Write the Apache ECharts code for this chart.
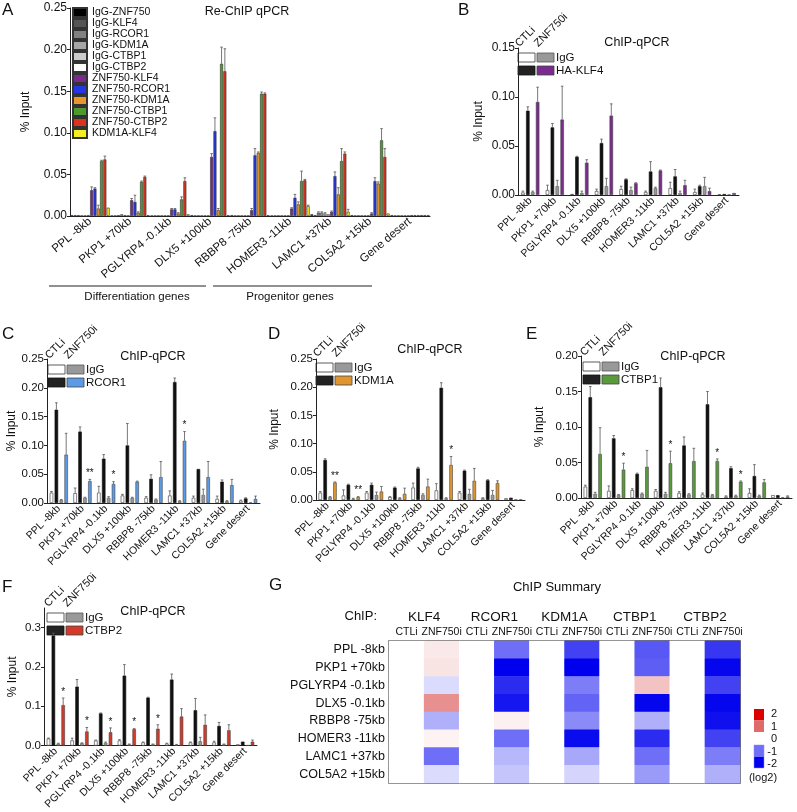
<!DOCTYPE html>
<html>
<head>
<meta charset="utf-8">
<script src="https://cdn.jsdelivr.net/npm/echarts@6/dist/echarts.min.js"></script>
<style>
html,body{margin:0;padding:0;background:#fff}
#fig{width:797px;height:812px}
</style>
</head>
<body>
<div id="fig"></div>
<script>
var FONT = 'Liberation Sans, Arial, Helvetica, sans-serif'

//基因位点
var genes = ['PPL -8kb', 'PKP1 +70kb', 'PGLYRP4 -0.1kb', 'DLX5 +100kb', 'RBBP8 -75kb', 'HOMER3 -11kb', 'LAMC1 +37kb', 'COL5A2 +15kb', 'Gene desert']

//A: Re-ChIP
var reChipNames = ['IgG-ZNF750', 'IgG-KLF4', 'IgG-RCOR1', 'IgG-KDM1A', 'IgG-CTBP1', 'IgG-CTBP2', 'ZNF750-KLF4', 'ZNF750-RCOR1', 'ZNF750-KDM1A', 'ZNF750-CTBP1', 'ZNF750-CTBP2', 'KDM1A-KLF4']
var reChipColors = ['#000000', '#555555', '#808080', '#a6a6a6', '#cccccc', '#ffffff', '#7a2a8c', '#2437e0', '#e8962e', '#4e9a2c', '#d9321f', '#f4ef22']
var reChipValues = [
	[0.001, 0.0005, 0.0005, 0.001, 0.001, 0.0005, 0.002, 0.001, 0.001],
	[0.001, 0.0005, 0.0005, 0.0005, 0.0005, 0.0005, 0.001, 0.0005, 0.0005],
	[0.001, 0.001, 0.0005, 0.0005, 0.0005, 0.0005, 0.004, 0.0005, 0.0005],
	[0.0005, 0.002, 0.0005, 0.0005, 0.0005, 0.0005, 0.004, 0.0005, 0.0005],
	[0.0005, 0.001, 0.0005, 0.0005, 0.0005, 0.0005, 0.003, 0.0005, 0.0005],
	[0.001, 0.0005, 0.0005, 0.0005, 0.0005, 0.0005, 0.002, 0.0005, 0.0005],
	[0.031, 0.019, 0.008, 0.071, 0.007, 0.009, 0.005, 0.003, 0.001],
	[0.033, 0.017, 0.008, 0.102, 0.073, 0.022, 0.048, 0.042, 0.001],
	[0.009, 0.004, 0.003, 0.007, 0.076, 0.014, 0.026, 0.039, 0.001],
	[0.066, 0.041, 0.020, 0.183, 0.147, 0.042, 0.066, 0.091, 0.001],
	[0.068, 0.047, 0.042, 0.174, 0.147, 0.043, 0.075, 0.071, 0.001],
	[0.010, 0.001, 0.002, 0.001, 0.001, 0.012, 0.005, 0.003, 0.001]
]
var reChipErr = [
	[0, 0, 0, 0, 0, 0, 0, 0, 0],
	[0, 0, 0, 0, 0, 0, 0, 0, 0],
	[0, 0, 0, 0, 0, 0, 0.001, 0, 0],
	[0, 0, 0, 0, 0, 0, 0.001, 0, 0],
	[0, 0, 0, 0, 0, 0, 0.001, 0, 0],
	[0, 0, 0, 0, 0, 0, 0, 0, 0],
	[0.004, 0.002, 0.001, 0.004, 0.002, 0.001, 0.001, 0.001, 0],
	[0.001, 0.008, 0.001, 0.016, 0.008, 0.004, 0.005, 0.004, 0],
	[0.004, 0.001, 0.001, 0.002, 0.001, 0.003, 0.008, 0.002, 0],
	[0.001, 0.001, 0.003, 0.020, 0.002, 0.012, 0.015, 0.014, 0],
	[0.004, 0.001, 0.004, 0.027, 0.001, 0.001, 0.002, 0.010, 0],
	[0, 0, 0, 0, 0, 0.001, 0.003, 0, 0]
]

//B: HA-KLF4
var klf4IgGCtl = [0.0025, 0.005, 0.001, 0.004, 0.006, 0.003, 0.007, 0.003, 0.0005]
var klf4IgGCtlErr = [0.0015, 0.005, 0, 0.002, 0.003, 0.001, 0.006, 0.003, 0]
var klf4Ctl = [0.086, 0.069, 0.039, 0.053, 0.016, 0.024, 0.019, 0.009, 0.001]
var klf4CtlErr = [0.004, 0.004, 0.0005, 0.004, 0.0005, 0.010, 0.007, 0.001, 0]
var klf4IgGKd = [0.003, 0.009, 0.002, 0.009, 0.005, 0.007, 0.002, 0.009, 0.0005]
var klf4IgGKdErr = [0.001, 0.006, 0.002, 0.008, 0.003, 0.001, 0.002, 0.009, 0]
var klf4Kd = [0.095, 0.077, 0.033, 0.081, 0.012, 0.025, 0.010, 0.004, 0.002]
var klf4KdErr = [0.015, 0.034, 0.003, 0.012, 0.0005, 0.0005, 0.005, 0.003, 0]

//C: RCOR1
var rcor1IgGCtl = [0.018, 0.017, 0.018, 0.013, 0.009, 0.013, 0.009, 0.007, 0.004]
var rcor1IgGCtlErr = [0.002, 0.009, 0.011, 0.002, 0.002, 0.008, 0.003, 0.005, 0.001]
var rcor1Ctl = [0.162, 0.124, 0.077, 0.100, 0.042, 0.210, 0.059, 0.037, 0.008]
var rcor1CtlErr = [0.012, 0.008, 0.007, 0.038, 0.007, 0.007, 0, 0.003, 0.001]
var rcor1IgGKd = [0.005, 0.009, 0.009, 0.009, 0.006, 0.003, 0.014, 0.003, 0.001]
var rcor1IgGKdErr = [0.001, 0.001, 0.002, 0.001, 0.001, 0.001, 0.010, 0.001, 0]
var rcor1Kd = [0.084, 0.038, 0.033, 0.037, 0.045, 0.108, 0.045, 0.031, 0.007]
var rcor1KdErr = [0.037, 0.003, 0.004, 0.001, 0.027, 0.016, 0.027, 0.010, 0.005]
var rcor1Sig = ['', '**', '*', '', '', '*', '', '', '']

//D: KDM1A
var kdm1aIgGCtl = [0.013, 0.008, 0.013, 0.005, 0.022, 0.017, 0.013, 0.003, 0.003]
var kdm1aIgGCtlErr = [0.002, 0.010, 0.002, 0.001, 0.008, 0.012, 0.002, 0.001, 0]
var kdm1aCtl = [0.071, 0.027, 0.027, 0.022, 0.056, 0.199, 0.052, 0.035, 0.004]
var kdm1aCtlErr = [0.002, 0.001, 0.003, 0.001, 0.002, 0.009, 0.001, 0.001, 0]
var kdm1aIgGKd = [0.005, 0.002, 0.009, 0.003, 0.009, 0.003, 0.011, 0.009, 0.001]
var kdm1aIgGKdErr = [0.001, 0.001, 0.005, 0.001, 0.002, 0.001, 0.008, 0.008, 0]
var kdm1aKd = [0.031, 0.005, 0.015, 0.011, 0.024, 0.062, 0.034, 0.030, 0.001]
var kdm1aKdErr = [0.001, 0.001, 0.009, 0.010, 0.013, 0.015, 0.022, 0.004, 0]
var kdm1aSig = ['**', '**', '', '', '', '*', '', '', '']

//E: CTBP1
var ctbp1IgGCtl = [0.016, 0.010, 0.011, 0.010, 0.007, 0.005, 0.002, 0.007, 0.004]
var ctbp1IgGCtlErr = [0.002, 0.007, 0.002, 0.002, 0.002, 0.002, 0.001, 0.006, 0]
var ctbp1Ctl = [0.142, 0.084, 0.034, 0.156, 0.074, 0.132, 0.042, 0.031, 0.004]
var ctbp1CtlErr = [0.015, 0.004, 0.001, 0.013, 0.012, 0.018, 0.002, 0.016, 0]
var ctbp1IgGKd = [0.006, 0.004, 0.006, 0.006, 0.005, 0.004, 0.003, 0.003, 0.001]
var ctbp1IgGKdErr = [0.002, 0.001, 0.001, 0.002, 0.001, 0.001, 0.001, 0.001, 0]
var ctbp1Kd = [0.062, 0.040, 0.044, 0.049, 0.052, 0.052, 0.023, 0.022, 0.002]
var ctbp1KdErr = [0.037, 0.009, 0.023, 0.017, 0.018, 0.003, 0.001, 0.004, 0.001]
var ctbp1Sig = ['', '*', '', '*', '', '*', '*', '', '']

//F: CTBP2
var ctbp2IgGCtl = [0.018, 0.013, 0.013, 0.013, 0.008, 0.005, 0.008, 0.008, 0.003]
var ctbp2IgGCtlErr = [0.001, 0.006, 0.001, 0.002, 0.001, 0.001, 0.001, 0.003, 0]
var ctbp2Ctl = [0.28, 0.150, 0.082, 0.178, 0.122, 0.168, 0.090, 0.050, 0.010]
var ctbp2CtlErr = [0.006, 0.018, 0.001, 0.028, 0.001, 0.014, 0.030, 0.009, 0]
var ctbp2IgGKd = [0.005, 0.006, 0.007, 0.003, 0.003, 0.002, 0.011, 0.003, 0.001]
var ctbp2IgGKdErr = [0.001, 0.001, 0.002, 0.001, 0.001, 0.001, 0.010, 0.001, 0]
var ctbp2Kd = [0.103, 0.036, 0.034, 0.042, 0.043, 0.074, 0.053, 0.039, 0.010]
var ctbp2KdErr = [0.018, 0.010, 0.011, 0.001, 0.010, 0.020, 0.025, 0.014, 0.004]
var ctbp2Sig = ['*', '*', '*', '*', '*', '', '', '', '']

//G: ChIP Summary (log2)
var heatRows = ['PPL -8kb', 'PKP1 +70kb', 'PGLYRP4 -0.1kb', 'DLX5 -0.1kb', 'RBBP8 -75kb', 'HOMER3 -11kb', 'LAMC1 +37kb', 'COL5A2 +15kb']
var heatProteins = ['KLF4', 'RCOR1', 'KDM1A', 'CTBP1', 'CTBP2']
var heatConditions = ['CTLi', 'ZNF750i']
var ctliLog2 = [0, 0, 0, 0, 0, 0, 0, 0]
var klf4Log2 = [0.15, 0.18, -0.25, 0.75, -0.55, 0.08, -1.0, -0.25]
var rcor1Log2 = [-1.0, -2.0, -1.6, -1.8, 0.1, -1.0, -0.5, -0.4]
var kdm1aLog2 = [-1.4, -2.0, -0.9, -1.1, -0.8, -1.9, -0.6, -0.3]
var ctbp1Log2 = [-1.2, -1.15, 0.4, -1.95, -0.55, -1.6, -1.0, -0.7]
var ctbp2Log2 = [-1.5, -1.95, -1.4, -1.95, -1.85, -1.4, -0.9, -0.55]
var heatScale = [2, 1, 0, -1, -2]

var heatColors = ['#0000ee', '#6e6ef6', '#ffffff', '#e06a6a', '#dd0000']

function txt(x, y, s, size, align, valign, extra) {
	var el = {
		type: 'text', x: x, y: y,
		style: {
			text: s, fontSize: size, fontFamily: FONT, fill: '#111',
			textAlign: align || 'left', align: align || 'left',
			textVerticalAlign: valign || 'middle', verticalAlign: valign || 'middle'
		}
	}
	if (extra) {
		for (var k in extra) el[k] = extra[k]
	}
	return el
}

function catAxis(gi, fs, rot) {
	return {
		type: 'category', gridIndex: gi, data: genes,
		axisLine: { lineStyle: { color: '#222', width: 1 } },
		axisTick: { alignWithLabel: true, length: 3, lineStyle: { color: '#222' } },
		axisLabel: { rotate: rot, interval: 0, fontSize: fs, color: '#111', margin: 4, fontFamily: FONT }
	}
}

function valAxis(gi, max, step, dec, gap, fs, ticks) {
	var ax = {
		type: 'value', gridIndex: gi, min: 0, max: max, interval: step,
		name: '% Input', nameLocation: 'middle', nameGap: gap,
		nameTextStyle: { fontSize: 12, color: '#111', fontFamily: FONT },
		splitLine: { show: false },
		axisLine: { show: true, lineStyle: { color: '#222' } },
		axisTick: { show: true, length: 3, lineStyle: { color: '#222' } },
		axisLabel: {
			fontSize: fs, color: '#111', margin: 3, fontFamily: FONT,
			formatter: function(v) {
				if (ticks && ticks.indexOf(+v.toFixed(3)) < 0) return ''
				return v.toFixed(dec)
			}
		}
	}
	if (ticks) {
		ax.axisLabel.customValues = ticks
		ax.axisTick.customValues = ticks
	}
	return ax
}

//误差线 + 显著性标记
function errSeries(gi, n, bw, gap, values, errs, sigs, sigIdx) {
	var data = []
	var marks = []
	values.forEach(function(vals, s) {
		vals.forEach(function(v, i) {
			data.push([i, v, errs[s][i], s])
			marks.push(sigs && s == sigIdx ? sigs[i] : '')
		})
	})
	return {
		type: 'custom', xAxisIndex: gi, yAxisIndex: gi, data: data, silent: true, z: 3,
		renderItem: function(params, api) {
			var i = api.value(0), v = api.value(1), e = api.value(2), s = api.value(3)
			var total = n * bw + (n - 1) * bw * gap
			var x = api.coord([i, 0])[0] - total / 2 + s * bw * (1 + gap) + bw / 2
			var yTop = api.coord([i, v])[1]
			var yErr = api.coord([i, v + e])[1]
			var ch = []
			if (e > 0) {
				ch.push({ type: 'line', shape: { x1: x, y1: yTop, x2: x, y2: yErr }, style: { stroke: '#555', lineWidth: 0.8 } })
				ch.push({ type: 'line', shape: { x1: x - 1.3, y1: yErr, x2: x + 1.3, y2: yErr }, style: { stroke: '#555', lineWidth: 0.8 } })
			}
			var m = marks[params.dataIndex]
			if (m) {
				ch.push({ type: 'text', x: x, y: yErr - 1, style: { text: m, fontSize: 10, fontFamily: FONT, fill: '#111', textAlign: 'center', align: 'center', textVerticalAlign: 'bottom', verticalAlign: 'bottom' } })
			}
			return { type: 'group', children: ch }
		}
	}
}

function barSet(gi, names, colors, borders, values, bw, gap) {
	return values.map(function(vals, s) {
		return {
			type: 'bar', name: names[s], xAxisIndex: gi, yAxisIndex: gi, data: vals,
			barWidth: bw, barGap: (gap * 100) + '%', silent: true,
			itemStyle: { color: colors[s], borderColor: borders[s], borderWidth: 0.6 }
		}
	})
}

//CTLi/ZNF750i 图例
function keyGraphic(x, y, color, label) {
	return [
		{ type: 'rect', shape: { x: x, y: y, width: 17, height: 9 }, style: { fill: '#fff', stroke: '#333', lineWidth: 0.8 } },
		{ type: 'rect', shape: { x: x + 19, y: y, width: 17, height: 9 }, style: { fill: '#999', stroke: '#555', lineWidth: 0.8 } },
		{ type: 'rect', shape: { x: x, y: y + 13, width: 17, height: 9 }, style: { fill: '#222', stroke: '#111', lineWidth: 0.8 } },
		{ type: 'rect', shape: { x: x + 19, y: y + 13, width: 17, height: 9 }, style: { fill: color, stroke: '#444', lineWidth: 0.8 } },
		txt(x + 38, y + 4.5, 'IgG', 11.5),
		txt(x + 38, y + 17.5, label, 11.5),
		txt(x + 3, y - 4, 'CTLi', 11, 'left', 'bottom', { rotation: Math.PI / 4 }),
		txt(x + 22, y - 4, 'ZNF750i', 11, 'left', 'bottom', { rotation: Math.PI / 4 })
	]
}

var kdNames = ['CTLi IgG', 'CTLi', 'ZNF750i IgG', 'ZNF750i']
var kdBorders = ['#333', '#111', '#555', '#444']
function kdColors(c) { return ['#ffffff', '#111111', '#9a9a9a', c] }

var grids = [
	{ left: 70, top: 8, width: 360, height: 208 },
	{ left: 518, top: 48, width: 221, height: 147 },
	{ left: 47, top: 359, width: 213, height: 144 },
	{ left: 316, top: 359, width: 209, height: 141 },
	{ left: 581, top: 356, width: 211, height: 142 },
	{ left: 44, top: 608, width: 213, height: 146 },
	{ left: 389, top: 641, width: 351, height: 142, show: true, borderColor: '#444', borderWidth: 1.5, backgroundColor: '#fff' }
]

var series = []
var reBorders = reChipColors.map(function() { return '#333' })
series = series.concat(barSet(0, reChipNames, reChipColors, reBorders, reChipValues, 3, 0.1))
series.push(errSeries(0, 12, 3, 0.1, reChipValues, reChipErr))

var panels = [
	{ gi: 1, color: '#7b2b8f', vals: [klf4IgGCtl, klf4Ctl, klf4IgGKd, klf4Kd], errs: [klf4IgGCtlErr, klf4CtlErr, klf4IgGKdErr, klf4KdErr] },
	{ gi: 2, color: '#5b9be6', vals: [rcor1IgGCtl, rcor1Ctl, rcor1IgGKd, rcor1Kd], errs: [rcor1IgGCtlErr, rcor1CtlErr, rcor1IgGKdErr, rcor1KdErr], sig: rcor1Sig },
	{ gi: 3, color: '#e0952e', vals: [kdm1aIgGCtl, kdm1aCtl, kdm1aIgGKd, kdm1aKd], errs: [kdm1aIgGCtlErr, kdm1aCtlErr, kdm1aIgGKdErr, kdm1aKdErr], sig: kdm1aSig },
	{ gi: 4, color: '#5a9a3c', vals: [ctbp1IgGCtl, ctbp1Ctl, ctbp1IgGKd, ctbp1Kd], errs: [ctbp1IgGCtlErr, ctbp1CtlErr, ctbp1IgGKdErr, ctbp1KdErr], sig: ctbp1Sig },
	{ gi: 5, color: '#d23a2a', vals: [ctbp2IgGCtl, ctbp2Ctl, ctbp2IgGKd, ctbp2Kd], errs: [ctbp2IgGCtlErr, ctbp2CtlErr, ctbp2IgGKdErr, ctbp2KdErr], sig: ctbp2Sig }
]
panels.forEach(function(p) {
	series = series.concat(barSet(p.gi, kdNames, kdColors(p.color), kdBorders, p.vals, 3.5, 0.4))
	series.push(errSeries(p.gi, 4, 3.5, 0.4, p.vals, p.errs, p.sig, 3))
})

//热图数据
var kdLog2 = [klf4Log2, rcor1Log2, kdm1aLog2, ctbp1Log2, ctbp2Log2]
var heatCols = []
var heatData = []
heatProteins.forEach(function(p, pi) {
	heatCols.push(heatConditions[0], heatConditions[1])
	heatRows.forEach(function(r, ri) {
		heatData.push([pi * 2, ri, ctliLog2[ri]])
		heatData.push([pi * 2 + 1, ri, kdLog2[pi][ri]])
	})
})
var heatIndex = series.length
series.push({
	type: 'heatmap', xAxisIndex: 6, yAxisIndex: 6, data: heatData, silent: true,
	itemStyle: { borderWidth: 0 }, emphasis: { disabled: true }
})

var xAxes = [
	catAxis(0, 11.5, 40), catAxis(1, 10.5, 45), catAxis(2, 10.5, 45),
	catAxis(3, 10.5, 45), catAxis(4, 10.5, 45), catAxis(5, 10.5, 45),
	{
		type: 'category', gridIndex: 6, data: heatCols, position: 'top',
		axisLine: { show: false }, axisTick: { show: false },
		axisLabel: { interval: 0, fontSize: 10.5, color: '#111', margin: 3, fontFamily: FONT }
	},
	{
		type: 'category', gridIndex: 6, data: heatProteins, position: 'top', offset: 14,
		axisLine: { show: false }, axisTick: { show: false },
		axisLabel: { interval: 0, fontSize: 13.5, color: '#111', margin: 3, fontFamily: FONT }
	}
]
var yAxes = [
	valAxis(0, 0.25, 0.05, 2, 38, 12),
	valAxis(1, 0.15, 0.05, 2, 33, 12),
	valAxis(2, 0.25, 0.05, 2, 29, 11.5),
	valAxis(3, 0.25, 0.05, 2, 35, 11.5),
	valAxis(4, 0.20, 0.05, 2, 35, 11.5),
	valAxis(5, 0.35, 0.1, 1, 25, 11.5, [0, 0.1, 0.2, 0.3]),
	{
		type: 'category', gridIndex: 6, data: heatRows, inverse: true,
		axisLine: { show: false }, axisTick: { show: false },
		axisLabel: { fontSize: 12.5, color: '#111', margin: 4, fontFamily: FONT }
	}
]

var g = []
//面板字母
g.push(txt(2, 2, 'A', 17, 'left', 'top'))
g.push(txt(458, 2, 'B', 17, 'left', 'top'))
g.push(txt(2, 326, 'C', 17, 'left', 'top'))
g.push(txt(268, 326, 'D', 17, 'left', 'top'))
g.push(txt(526, 326, 'E', 17, 'left', 'top'))
g.push(txt(2, 579, 'F', 17, 'left', 'top'))
g.push(txt(269, 577, 'G', 17, 'left', 'top'))
//标题
g.push(txt(247, 12, 'Re-ChIP qPCR', 12.5, 'center'))
g.push(txt(637, 43, 'ChIP-qPCR', 12.5, 'center'))
g.push(txt(153, 357, 'ChIP-qPCR', 12.5, 'center'))
g.push(txt(430, 350, 'ChIP-qPCR', 12.5, 'center'))
g.push(txt(693, 357, 'ChIP-qPCR', 12.5, 'center'))
g.push(txt(153, 612, 'ChIP-qPCR', 12.5, 'center'))
g.push(txt(557, 587, 'ChIP Summary', 13, 'center'))
g.push(txt(377, 616, 'ChIP:', 13, 'right'))
//A 基因分组
g.push({ type: 'line', shape: { x1: 49, y1: 286, x2: 206, y2: 286 }, style: { stroke: '#222', lineWidth: 1.2 } })
g.push({ type: 'line', shape: { x1: 213, y1: 286, x2: 372, y2: 286 }, style: { stroke: '#222', lineWidth: 1.2 } })
g.push(txt(137, 297, 'Differentiation genes', 11.5, 'center'))
g.push(txt(290, 297, 'Progenitor genes', 11.5, 'center'))
//图例
g = g.concat(keyGraphic(518, 53, '#7b2b8f', 'HA-KLF4'))
g = g.concat(keyGraphic(48, 365, '#5b9be6', 'RCOR1'))
g = g.concat(keyGraphic(316, 363, '#e0952e', 'KDM1A'))
g = g.concat(keyGraphic(583, 362, '#5a9a3c', 'CTBP1'))
g = g.concat(keyGraphic(47, 613, '#d23a2a', 'CTBP2'))
//热图色标
var scaleY = { '2': 709, '1': 720.5, '-1': 745, '-2': 756.5 }
heatScale.forEach(function(v, k) {
	var ty = 714 + k * 12.5
	if (v != 0) {
		g.push({ type: 'rect', shape: { x: 754, y: scaleY[String(v)], width: 10, height: 11.5 }, style: { fill: heatColors[2 + v], stroke: v < 0 ? '#8f8ff5' : 'none', lineWidth: 0.5 } })
	}
	g.push(txt(777, ty, String(v), 11, 'right'))
})
g.push(txt(763, 778, '(log2)', 11, 'center'))

var option = {
	animation: false,
	backgroundColor: '#fff',
	textStyle: { fontFamily: FONT },
	grid: grids,
	xAxis: xAxes,
	yAxis: yAxes,
	legend: {
		data: reChipNames, orient: 'vertical', left: 72, top: 7, padding: 0,
		itemWidth: 14, itemHeight: 9, itemGap: 0, icon: 'rect', selectedMode: false,
		textStyle: { fontSize: 10.5, lineHeight: 11, color: '#111', fontFamily: FONT }
	},
	visualMap: {
		type: 'continuous', show: false, min: -2, max: 2, seriesIndex: heatIndex,
		inRange: { color: heatColors }
	},
	graphic: { elements: g },
	series: series
}

var myChart = echarts.init(document.getElementById('fig'))
myChart.setOption(option)
</script>
</body>
</html>
